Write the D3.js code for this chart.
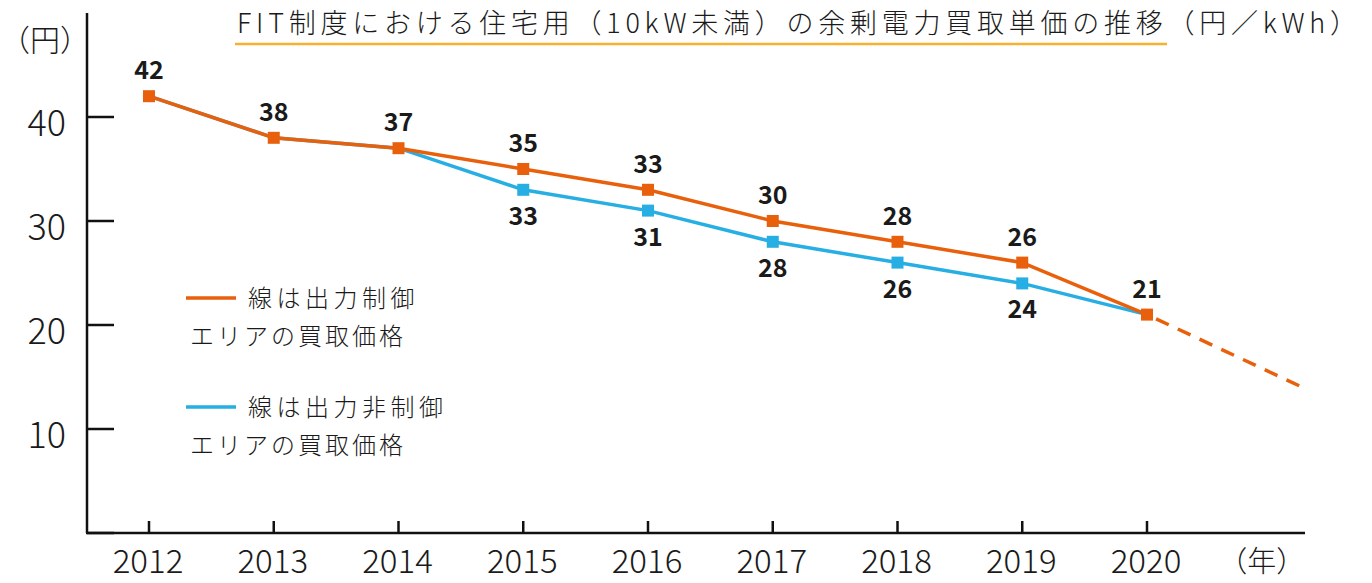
<!DOCTYPE html>
<html>
<head>
<meta charset="utf-8">
<script src="https://cdn.jsdelivr.net/npm/d3@7"></script>
<style>
  body { margin: 0; background: #fff; }
  text { font-family: "Noto Sans CJK JP", "Noto Sans", sans-serif; fill: #1a1a1a; }
</style>
</head>
<body>
<div id="d3-container"></div>
<script>
const years = [2012, 2013, 2014, 2015, 2016, 2017, 2018, 2019, 2020];
const controlled = [42, 38, 37, 35, 33, 30, 28, 26, 21];
const nonControlled = [42, 38, 37, 33, 31, 28, 26, 24, 21];
// labels shown under the blue line (2015-2019 only)
const blueLabelYears = [2015, 2016, 2017, 2018, 2019];
// projected part after 2020 (dashed)
const projection = [{year: 2020, value: 21}, {year: 2021.23, value: 14.1}];
const yTicks = [0, 10, 20, 30, 40];
const titleText = 'FIT制度における住宅用（10kW未満）の余剰電力買取単価の推移（円／kWh）';
const legendItems = [
  {name: '線は出力制御', sub: 'エリアの買取価格', color: '#e8600c'},
  {name: '線は出力非制御', sub: 'エリアの買取価格', color: '#27aee3'}
];

const width = 1372;
const height = 583;

const svg = d3.select('#d3-container')
  .append('svg')
  .attr('width', width)
  .attr('height', height);

const x = d3.scaleLinear()
  .domain([2012, 2020])
  .range([149, 1147]);

const y = d3.scaleLinear()
  .domain([0, 40])
  .range([533, 117]);

const orange = legendItems[0].color;
const blue = legendItems[1].color;

// axes
svg.append('line')
  .attr('x1', 87).attr('x2', 87)
  .attr('y1', 13).attr('y2', y(0))
  .attr('stroke', '#111').attr('stroke-width', 2.5);
svg.append('line')
  .attr('x1', 86).attr('x2', 1305)
  .attr('y1', y(0)).attr('y2', y(0))
  .attr('stroke', '#111').attr('stroke-width', 2.5);

svg.append('g')
  .selectAll('line')
  .data(yTicks)
  .join('line')
    .attr('x1', 87).attr('x2', 114)
    .attr('y1', d => y(d)).attr('y2', d => y(d))
    .attr('stroke', '#111').attr('stroke-width', 2.5);

svg.append('g')
  .selectAll('text')
  .data(yTicks.filter(d => d > 0))
  .join('text')
    .attr('x', 66)
    .attr('y', d => y(d) + 19)
    .attr('text-anchor', 'end')
    .attr('font-size', 36)
    .attr('font-weight', 300)
    .text(d => d);

svg.append('g')
  .selectAll('line')
  .data(years)
  .join('line')
    .attr('x1', d => x(d)).attr('x2', d => x(d))
    .attr('y1', y(0) - 12).attr('y2', y(0))
    .attr('stroke', '#111').attr('stroke-width', 2.5);

svg.append('g')
  .selectAll('text')
  .data(years)
  .join('text')
    .attr('x', d => x(d) - 1)
    .attr('y', 573)
    .attr('text-anchor', 'middle')
    .attr('font-size', 33)
    .attr('font-weight', 300)
    .text(d => d);

svg.append('text')
  .attr('x', x(2021) - 10)
  .attr('y', 572)
  .attr('text-anchor', 'middle')
  .attr('font-size', 29)
  .attr('font-weight', 300)
  .text('（年）');

svg.append('text')
  .attr('x', 45)
  .attr('y', 51)
  .attr('text-anchor', 'middle')
  .attr('font-size', 30)
  .attr('font-weight', 300)
  .text('（円）');

// title
svg.append('text')
  .attr('x', 237)
  .attr('y', 33)
  .attr('font-size', 27)
  .attr('font-weight', 300)
  .attr('textLength', 1120)
  .attr('lengthAdjust', 'spacing')
  .text(titleText);
svg.append('line')
  .attr('x1', 235).attr('x2', 1167)
  .attr('y1', 44).attr('y2', 44)
  .attr('stroke', '#f9b12d').attr('stroke-width', 2.5);

// lines
const line = d3.line()
  .x(d => x(d.year))
  .y(d => y(d.value));

const blueData = years.map((yr, i) => ({year: yr, value: nonControlled[i]}));
const orangeData = years.map((yr, i) => ({year: yr, value: controlled[i]}));

svg.append('path')
  .datum(blueData)
  .attr('d', line)
  .attr('fill', 'none')
  .attr('stroke', blue)
  .attr('stroke-width', 3.5);

svg.append('path')
  .datum(projection)
  .attr('d', line)
  .attr('fill', 'none')
  .attr('stroke', orange)
  .attr('stroke-width', 3.5)
  .attr('stroke-dasharray', '14 10')
  .attr('stroke-dashoffset', -10);

svg.append('path')
  .datum(orangeData)
  .attr('d', line)
  .attr('fill', 'none')
  .attr('stroke', orange)
  .attr('stroke-width', 3.5);

svg.append('g')
  .selectAll('rect')
  .data(blueData.filter(d => blueLabelYears.includes(d.year)))
  .join('rect')
    .attr('x', d => x(d.year) - 6)
    .attr('y', d => y(d.value) - 6)
    .attr('width', 12).attr('height', 12)
    .attr('fill', blue);

svg.append('g')
  .selectAll('rect')
  .data(orangeData)
  .join('rect')
    .attr('x', d => x(d.year) - 6)
    .attr('y', d => y(d.value) - 6)
    .attr('width', 12).attr('height', 12)
    .attr('fill', orange);

// value labels
svg.append('g')
  .selectAll('text')
  .data(orangeData)
  .join('text')
    .attr('x', d => x(d.year))
    .attr('y', d => y(d.value) - 17)
    .attr('text-anchor', 'middle')
    .attr('font-size', 25)
    .attr('font-weight', 600)
    .text(d => d.value);

svg.append('g')
  .selectAll('text')
  .data(blueData.filter(d => blueLabelYears.includes(d.year)))
  .join('text')
    .attr('x', d => x(d.year))
    .attr('y', d => y(d.value) + 35)
    .attr('text-anchor', 'middle')
    .attr('font-size', 25)
    .attr('font-weight', 600)
    .text(d => d.value);

// legend
const legend = svg.append('g')
  .selectAll('g')
  .data(legendItems)
  .join('g')
    .attr('transform', (d, i) => `translate(0, ${298 + i * 109})`);

legend.append('line')
  .attr('x1', 186).attr('x2', 236)
  .attr('y1', 0).attr('y2', 0)
  .attr('stroke', d => d.color)
  .attr('stroke-width', 3.5);

legend.append('text')
  .attr('x', 248)
  .attr('y', 9)
  .attr('font-size', 24)
  .attr('font-weight', 300)
  .attr('letter-spacing', 4.5)
  .text(d => d.name);

legend.append('text')
  .attr('x', 190)
  .attr('y', 47)
  .attr('font-size', 24)
  .attr('font-weight', 300)
  .attr('letter-spacing', 3)
  .text(d => d.sub);
</script>
</body>
</html>
